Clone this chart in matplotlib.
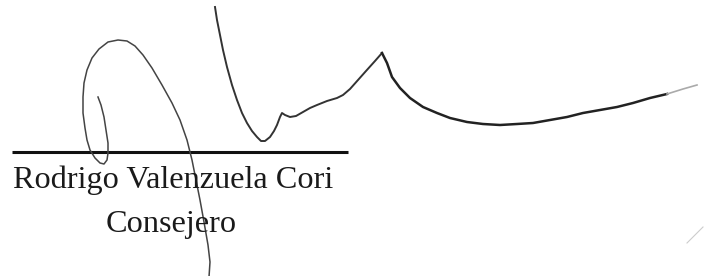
import matplotlib.pyplot as plt

# trazos de la firma (x, y en pixeles de la imagen)
loop_x = [98, 101, 104, 106, 108, 108, 107, 104, 100, 95, 90, 87, 85, 83, 83, 84, 87, 92, 99, 108, 118,
          127, 135, 143, 152, 162, 172, 180, 187, 192, 196, 200, 204, 208, 210, 209]
loop_y = [97, 105, 117, 130, 143, 153, 160, 164, 163, 158, 150, 140, 128, 113, 97, 83, 70, 58, 49, 42, 40,
          41, 46, 55, 68, 85, 103, 120, 140, 160, 180, 200, 222, 245, 262, 277]

wave_x = [215, 217, 220, 223, 227, 232, 237, 242, 247, 252, 257, 261, 265, 270, 274, 277, 280, 282,
          285, 290, 296, 303, 310, 317, 327, 337, 343, 350, 358, 366, 375, 382]
wave_y = [7, 20, 35, 50, 67, 85, 100, 113, 123, 131, 137, 141, 141, 137, 131, 125, 117, 113,
          115, 117, 116, 112, 108, 105, 101, 98, 95, 89, 80, 71, 61, 53]

tail_x = [382, 387, 392, 400, 410, 423, 437, 450, 467, 483, 500, 517, 533, 550, 567, 583, 600, 617, 633, 650, 667]
tail_y = [53, 63, 77, 88, 98, 107, 113, 118, 122, 124, 125, 124, 123, 120, 117, 113, 110, 107, 103, 98, 94]

fade_x = [667, 683, 697]
fade_y = [94, 89, 85]

mark_x = [687, 703]
mark_y = [243, 227]

rule_x = [12, 348]
rule_y = [152, 152]

name = "Rodrigo Valenzuela Cori"
title = "Consejero"

fig = plt.figure(figsize=(7.1, 2.76), dpi=100)
ax = fig.add_axes([0, 0, 1, 1])
ax.set_xlim(0, 710)
ax.set_ylim(276, 0)
ax.axis('off')

ax.plot(rule_x, rule_y, color='#111111', lw=2.2, solid_capstyle='butt')
ax.plot(loop_x, loop_y, color='#444444', lw=1.1, solid_joinstyle='round')
ax.plot(wave_x, wave_y, color='#333333', lw=1.4, solid_joinstyle='round')
ax.plot(tail_x, tail_y, color='#222222', lw=1.8, solid_joinstyle='round')
ax.plot(fade_x, fade_y, color='#aaaaaa', lw=1.2, solid_joinstyle='round')
ax.plot(mark_x, mark_y, color='#cccccc', lw=0.8)

ax.text(13, 188, name, fontsize=23.2, family='Liberation Serif', color='#1a1a1a', va='baseline', ha='left')
ax.text(171, 232, title, fontsize=23.2, family='Liberation Serif', color='#1a1a1a', va='baseline', ha='center')

fig.savefig('out.png', dpi=100)
